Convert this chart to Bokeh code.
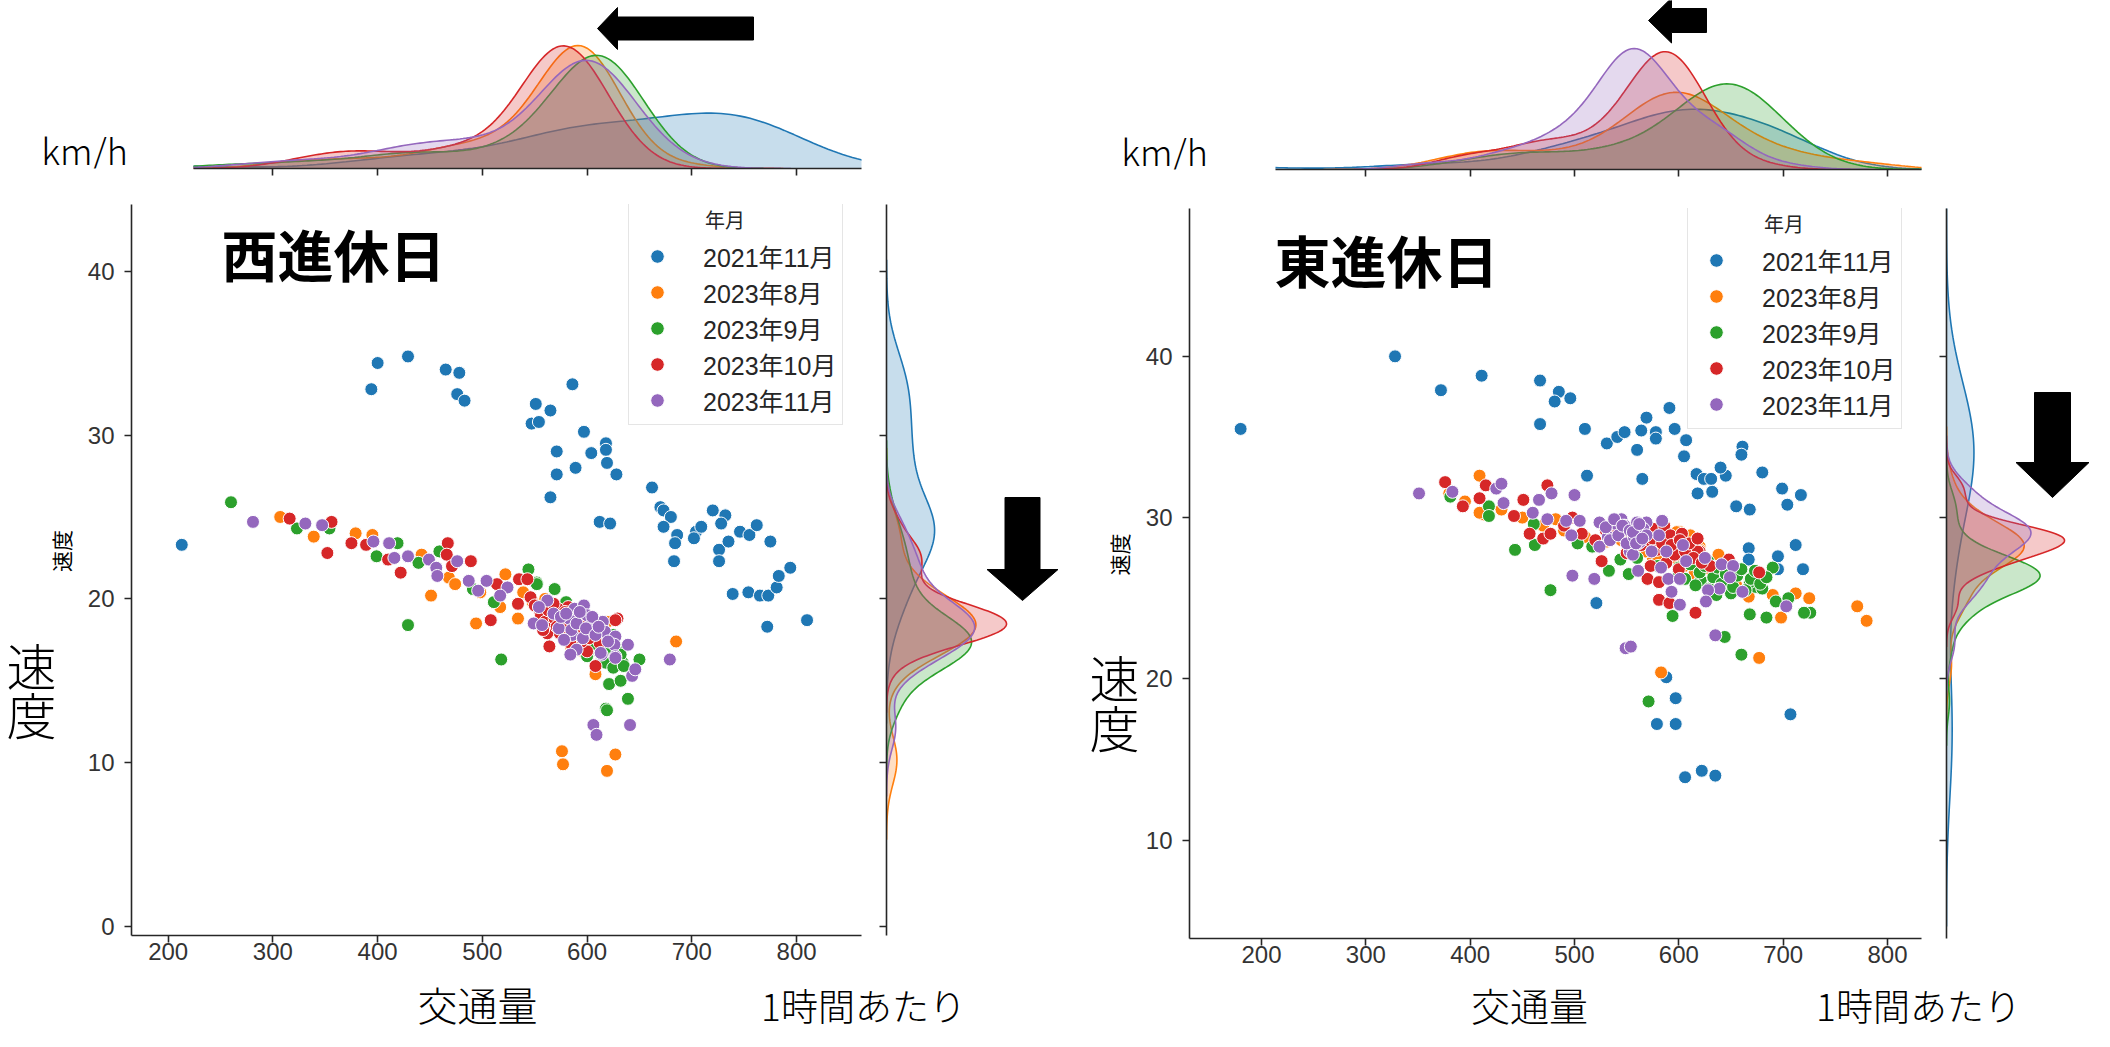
import numpy as np
from bokeh.plotting import figure
from bokeh.layouts import row, column
from bokeh.models import Range1d, FixedTicker, Label, Legend, LegendItem
from bokeh.embed import file_html
from bokeh.resources import INLINE

MONTHS = ["2021年11月", "2023年8月", "2023年9月", "2023年10月", "2023年11月"]
COLORS = ["#1f77b4", "#ff7f0e", "#2ca02c", "#d62728", "#9467bd"]
X_TICKS = [200, 300, 400, 500, 600, 700, 800]
Y_TICKS_W = [0, 10, 20, 30, 40]
Y_TICKS_E = [10, 20, 30, 40]

# ---------------- 西進休日 (west, holidays): 交通量 (per hour), 速度 (km/h)
W_2111_VOL = [213, 394, 400, 429, 465, 478, 476, 483, 586, 551, 565, 547, 554, 597, 571, 618, 618, 604, 619, 571,
              589, 628, 565, 612, 622, 662, 670, 673, 680, 673, 686, 684, 683, 704, 709, 702, 720, 732, 728, 726,
              726, 735, 746, 755, 762, 775, 739, 754, 765, 773, 781, 783, 794, 772, 810]
W_2111_SPD = [23.3, 32.8, 34.4, 34.8, 34.0, 33.8, 32.5, 32.1, 33.1, 31.9, 31.5, 30.7, 30.8, 30.2, 29.0, 29.5, 29.1, 28.9, 28.3, 27.6,
              28.0, 27.6, 26.2, 24.7, 24.6, 26.8, 25.6, 25.4, 25.0, 24.4, 23.9, 23.4, 22.3, 24.1, 24.4, 23.7, 25.4, 25.1, 24.6, 23.0,
              22.3, 23.5, 24.1, 23.9, 24.5, 23.5, 20.3, 20.4, 20.2, 20.2, 20.7, 21.4, 21.9, 18.3, 18.7]
W_2308_VOL = [307, 339, 379, 395, 442, 468, 474, 451, 522, 517, 534, 494, 685, 608, 576, 577, 627, 619, 539, 575,
              590, 600, 612, 560, 548, 622, 585, 498,
              565, 570, 578, 582, 586, 590, 593, 596, 598, 601, 604, 607, 610, 613, 616, 619, 588, 580, 575, 596,
              603, 592, 584, 609, 572]
W_2308_SPD = [25.0, 23.8, 24.0, 23.9, 22.7, 21.3, 20.9, 20.2, 21.5, 19.5, 18.8, 18.5, 17.4, 15.4, 10.7, 9.9, 10.5, 9.5, 20.4, 19.5,
              18.5, 17.5, 18.2, 20.0, 19.8, 16.5, 17.0, 20.4,
              19.0, 18.4, 18.8, 17.6, 18.3, 19.1, 17.9, 18.6, 17.2, 18.1, 18.9, 17.6, 18.4, 17.0, 17.9, 18.6, 17.4, 19.5, 17.9, 16.8,
              17.5, 18.7, 18.9, 16.9, 19.3]
W_2309_VOL = [260, 323, 354, 399, 419, 439, 459, 491, 511, 544, 552, 569, 429, 518, 621, 634, 650, 639, 618, 632,
              619, 552, 580, 595, 610, 605, 565, 625,
              585, 590, 594, 598, 600, 603, 606, 608, 611, 614, 617, 620, 623, 626, 629, 632, 604, 596, 612, 618,
              625, 600, 592, 615, 635]
W_2309_SPD = [25.9, 24.3, 24.3, 22.6, 23.4, 22.2, 22.9, 20.6, 19.8, 21.8, 21.0, 20.6, 18.4, 16.3, 14.8, 16.1, 16.3, 13.9, 13.3, 15.0,
              13.2, 20.9, 19.8, 18.0, 17.5, 18.8, 19.0, 17.8,
              18.5, 17.9, 18.3, 17.4, 18.0, 16.8, 17.7, 18.4, 17.1, 16.5, 17.6, 16.9, 17.4, 16.2, 17.0, 16.6, 17.2, 18.8, 17.9, 16.1,
              15.8, 16.5, 17.0, 18.2, 15.9]
W_2310_VOL = [316, 356, 352, 375, 389, 410, 422, 467, 466, 471, 489, 514, 534, 535, 543, 546, 508, 629, 564, 600,
              608, 627, 612, 575, 590, 620, 555, 582, 598,
              550, 556, 560, 563, 566, 569, 572, 574, 577, 580, 583, 586, 589, 592, 595, 562, 568, 579, 584, 590,
              597, 602, 606, 571, 558]
W_2310_SPD = [24.9, 24.7, 22.8, 23.4, 23.3, 22.4, 21.6, 23.4, 22.7, 22.0, 22.3, 20.9, 19.7, 21.2, 21.2, 20.1, 18.7, 18.8, 17.1, 16.8,
              15.9, 18.7, 17.3, 18.5, 17.8, 17.6, 19.2, 19.5, 18.2,
              19.6, 19.0, 18.6, 19.3, 18.2, 18.8, 19.4, 17.9, 18.6, 18.1, 18.9, 17.6, 18.4, 18.0, 17.4, 17.9, 19.7, 19.2, 17.3, 19.0,
              18.7, 17.6, 18.3, 18.3, 18.1]
W_2311_VOL = [281, 331, 347, 396, 411, 416, 429, 449, 456, 457, 476, 487, 496, 504, 524, 517, 549, 557, 562, 568,
              554, 573, 583, 588, 586, 597, 600, 604, 615, 617, 590, 584, 614, 627, 626, 627, 639, 643, 679, 646,
              606, 609, 641, 613, 627,
              575, 580, 585, 590, 593, 596, 599, 605, 608, 611, 578, 620]
W_2311_SPD = [24.7, 24.6, 24.5, 23.5, 23.4, 22.5, 22.6, 22.4, 21.9, 21.4, 22.3, 21.1, 20.5, 21.1, 20.7, 20.2, 18.5, 18.4, 19.9, 19.1,
              19.5, 18.2, 18.8, 19.4, 17.8, 19.6, 19.0, 18.4, 18.6, 18.0, 16.9, 16.6, 16.6, 17.7, 17.2, 16.5, 17.2, 15.3, 16.3, 15.7,
              12.3, 11.7, 12.3, 16.7, 16.4,
              18.9, 19.1, 18.1, 18.5, 19.2, 17.6, 18.2, 18.9, 17.8, 18.3, 17.5, 17.4]

# ---------------- 東進休日 (east, holidays)
E_2111_VOL = [180, 328, 372, 411, 467, 485, 496, 481, 467, 510, 531, 541, 548, 564, 569, 578, 578, 591, 596, 607,
              560, 605, 512, 565, 617, 624, 631, 645, 618, 632, 640, 661, 660, 680, 655, 668, 699, 717, 704, 667,
              667, 695, 712, 719, 695, 521, 588, 597, 579, 597, 707, 606, 622, 635]
E_2111_SPD = [35.5, 40.0, 37.9, 38.8, 38.5, 37.8, 37.4, 37.2, 35.8, 35.5, 34.6, 35.0, 35.3, 35.4, 36.2, 35.3, 34.9, 36.8, 35.5, 34.8,
              34.2, 33.8, 32.6, 32.4, 32.7, 32.4, 32.4, 32.6, 31.5, 31.6, 33.1, 34.4, 33.9, 32.8, 30.7, 30.5, 31.8, 31.4, 30.8, 28.1,
              27.4, 27.6, 28.3, 26.8, 26.8, 24.7, 20.1, 18.8, 17.2, 17.2, 17.8, 13.9, 14.3, 14.0]
E_2308_VOL = [409, 413, 409, 601, 667, 677, 583, 725, 712, 771, 780, 698, 380, 395, 430, 450, 470, 490, 510, 530,
              545, 560, 575, 590, 605, 615, 630, 640, 655, 690, 620, 585, 482,
              552, 558, 563, 568, 573, 578, 583, 587, 591, 595, 599, 603, 607, 611, 615, 620, 625, 632, 638, 645,
              580, 598]
E_2308_SPD = [32.6, 30.2, 30.3, 29.1, 25.1, 21.3, 20.4, 25.0, 25.3, 24.5, 23.6, 23.8, 31.5, 31.0, 30.5, 30.0, 29.5, 29.2, 28.8, 28.5,
              28.6, 28.0, 27.5, 27.8, 27.0, 26.5, 26.8, 26.0, 25.8, 25.2, 28.2, 28.8, 29.9,
              28.9, 28.4, 29.2, 27.9, 28.6, 29.0, 28.1, 27.6, 28.7, 28.2, 27.4, 28.4, 27.8, 28.9, 27.2, 28.0, 27.5, 27.0, 27.7, 26.8,
              27.3, 29.1]
E_2309_VOL = [381, 418, 418, 461, 462, 443, 503, 517, 533, 544, 552, 594, 674, 668, 644, 660, 571, 477, 726, 720,
              693, 705, 684, 690, 680, 650, 621, 668, 560, 580, 600, 610, 635,
              600, 606, 611, 616, 620, 625, 629, 633, 637, 641, 645, 648, 652, 656, 660, 664, 669, 673, 678, 684,
              636, 628]
E_2309_SPD = [31.3, 30.7, 30.1, 29.6, 28.3, 28.0, 28.4, 28.2, 26.7, 27.4, 26.5, 23.9, 25.7, 24.0, 22.6, 21.5, 18.6, 25.5, 24.1, 24.1,
              24.8, 25.0, 23.8, 26.9, 25.6, 25.3, 26.1, 26.0, 27.5, 27.0, 26.5, 27.2, 26.5,
              26.9, 26.2, 27.1, 25.8, 26.6, 27.0, 25.6, 26.3, 26.9, 25.9, 26.5, 27.2, 25.7, 26.4, 26.8, 25.5, 26.2, 26.7, 25.9, 26.3,
              25.2, 27.3]
E_2310_VOL = [376, 393, 415, 409, 451, 442, 474, 457, 470, 477, 498, 507, 526, 620, 573, 570, 581, 591, 581, 618,
              648, 677, 616, 540, 555, 565, 595, 605, 630, 550, 588, 530, 490, 520, 600,
              548, 555, 560, 564, 568, 572, 576, 579, 582, 586, 589, 592, 596, 599, 603, 606, 610, 614, 618, 622,
              575, 584, 593, 601]
E_2310_SPD = [32.2, 30.7, 32.0, 31.2, 31.1, 30.1, 32.0, 29.0, 28.7, 29.0, 30.0, 29.0, 27.3, 27.9, 27.0, 26.2, 24.9, 24.7, 26.0, 27.9,
              27.4, 26.6, 24.1, 29.0, 28.5, 28.8, 28.0, 27.6, 27.0, 27.8, 27.2, 29.2, 29.5, 28.6, 26.8,
              29.4, 28.9, 29.6, 28.3, 29.1, 28.6, 29.3, 28.0, 28.8, 29.5, 28.2, 28.9, 27.7, 28.5, 29.0, 27.9, 28.4, 27.5, 28.7, 27.2,
              28.7, 28.4, 28.3, 28.6]
E_2311_VOL = [351, 383, 425, 430, 432, 460, 466, 478, 500, 474, 492, 505, 497, 524, 540, 532, 569, 584, 581, 561,
              604, 588, 625, 574, 553, 524, 556, 561, 583, 590, 593, 601, 601, 607, 641, 652, 649, 639, 628, 626,
              661, 635, 549, 554, 498, 519, 703, 545, 548,
              530, 534, 538, 542, 546, 550, 553, 557, 560, 563, 566, 569,
              556, 559, 562, 565]
E_2311_SPD = [31.5, 31.6, 31.8, 32.1, 30.9, 30.3, 31.1, 31.5, 31.4, 29.9, 29.8, 29.8, 28.9, 29.7, 29.6, 28.8, 29.7, 29.8, 28.9, 28.4,
              28.3, 27.9, 27.5, 27.9, 27.9, 28.2, 27.7, 26.7, 26.9, 26.2, 25.4, 26.2, 24.6, 27.3, 27.1, 27.0, 26.3, 25.6, 25.5, 24.8,
              25.4, 22.7, 21.9, 22.0, 26.4, 26.2, 24.5, 29.9, 29.5,
              29.4, 28.6, 29.9, 28.9, 29.5, 28.4, 29.2, 28.8, 29.7, 28.5, 29.3, 28.9,
              29.1, 28.4, 29.6, 28.7]

WEST_VOL = [W_2111_VOL, W_2308_VOL, W_2309_VOL, W_2310_VOL, W_2311_VOL]
WEST_SPD = [W_2111_SPD, W_2308_SPD, W_2309_SPD, W_2310_SPD, W_2311_SPD]
EAST_VOL = [E_2111_VOL, E_2308_VOL, E_2309_VOL, E_2310_VOL, E_2311_VOL]
EAST_SPD = [E_2111_SPD, E_2308_SPD, E_2309_SPD, E_2310_SPD, E_2311_SPD]

AXIS_COLOR = "#262626"
TICK_FONT = "Liberation Sans"
JP_FONT = "Noto Sans CJK JP"
JP_LIGHT = "Noto Sans CJK JP Light, Noto Sans CJK JP"
LEGEND_FONT = "Liberation Sans, Noto Sans CJK JP"


def kde(vals, cut=3, n_grid=200):
    v = np.asarray(vals, dtype=float)
    n = v.size
    bw = v.std(ddof=1) * n ** (-0.2)
    g = np.linspace(v.min() - cut * bw, v.max() + cut * bw, n_grid)
    d = np.exp(-0.5 * ((g[:, None] - v[None, :]) / bw) ** 2).sum(axis=1) / (n * bw * np.sqrt(2 * np.pi))
    return g, d


def group_kdes(groups):
    total = sum(len(g) for g in groups)
    out = []
    for g in groups:
        grid, d = kde(g)
        out.append((grid, d * len(g) / total))
    return out


def make_fig(canvas, frame, xr, yr, x_axis=None, y_axis=None):
    cx0, cy0, w, h = canvas
    fl, ft, fr, fb = frame
    p = figure(width=w, height=h, x_range=Range1d(*xr), y_range=Range1d(*yr),
               x_axis_location=x_axis, y_axis_location=y_axis,
               toolbar_location=None, output_backend="svg",
               min_border_left=fl - cx0, min_border_right=cx0 + w - fr,
               min_border_top=ft - cy0, min_border_bottom=cy0 + h - fb)
    p.outline_line_color = None
    p.background_fill_color = "white"
    p.border_fill_color = "white"
    p.xgrid.visible = False
    p.ygrid.visible = False

    def to_data(X, Y):
        return (xr[0] + (X - fl) / (fr - fl) * (xr[1] - xr[0]),
                yr[0] + (fb - Y) / (fb - ft) * (yr[1] - yr[0]))
    return p, to_data


def text_fig(canvas):
    cx0, cy0, w, h = canvas
    return make_fig(canvas, (cx0, cy0, cx0 + w, cy0 + h), (0, w), (0, h))


def style_axis(ax, ticks, labels=True, standoff=8):
    ax.ticker = FixedTicker(ticks=ticks)
    ax.axis_line_color = AXIS_COLOR
    ax.axis_line_width = 1.6
    ax.major_tick_line_color = AXIS_COLOR
    ax.major_tick_line_width = 1.6
    ax.major_tick_out = 7
    ax.major_tick_in = 0
    ax.minor_tick_line_color = None
    if labels:
        ax.major_label_text_font = TICK_FONT
        ax.major_label_text_font_size = "24px"
        ax.major_label_text_color = "#333333"
        ax.major_label_standoff = standoff
    else:
        ax.major_label_overrides = {t: "" for t in ticks}
        ax.major_label_standoff = 0


def add_text(p, to_data, X, Y, text, size, font, style="normal", align="center", angle=0.0):
    x, y = to_data(X, Y)
    p.add_layout(Label(x=x, y=y, text=text, text_font=font, text_font_size=f"{size}px", angle=angle,
                       text_font_style=style, text_color="black", text_align=align, text_baseline="middle"))


def add_arrow(p, to_data, pts):
    xs, ys = zip(*[to_data(X, Y) for X, Y in pts])
    p.patch(list(xs), list(ys), fill_color="black", line_color="black")


def arrow_left(tx, ty, base_x, head_half, end_x, shaft_half):
    return [(tx, ty), (base_x, ty - head_half), (base_x, ty - shaft_half), (end_x, ty - shaft_half),
            (end_x, ty + shaft_half), (base_x, ty + shaft_half), (base_x, ty + head_half)]


def arrow_down(tx, ty, base_y, head_half, top_y, shaft_half):
    return [(tx, ty), (tx - head_half, base_y), (tx - shaft_half, base_y), (tx - shaft_half, top_y),
            (tx + shaft_half, top_y), (tx + shaft_half, base_y), (tx + head_half, base_y)]


def build_panel(cfg, vols, spds):
    # ---- main scatter
    M, m_data = make_fig(cfg["M_canvas"], cfg["M_frame"], cfg["xr"], cfg["yr"], x_axis="below", y_axis="left")
    style_axis(M.xaxis[0], X_TICKS, standoff=0)
    style_axis(M.yaxis[0], cfg["yticks"], standoff=10)
    rends = []
    for v, s, c in zip(vols, spds, COLORS):
        rends.append(M.scatter(v, s, size=13, fill_color=c, line_color="white", line_width=1))
    leg = Legend(items=[LegendItem(label=m, renderers=[r]) for m, r in zip(MONTHS, rends)],
                 location=cfg["legend_loc"], title="\u3000\u3000\u3000\u2002年月",
                 title_text_font=JP_FONT, title_text_font_size="20px", title_text_font_style="normal",
                 title_text_color="#262626", title_standoff=4,
                 label_text_font=LEGEND_FONT, label_text_font_size="25px", label_text_color="#262626",
                 glyph_width=44, glyph_height=34, label_height=34, spacing=0, padding=6,
                 label_standoff=24, margin=0, border_line_color="#cccccc", border_line_width=1,
                 background_fill_color="white", background_fill_alpha=0.85)
    M.add_layout(leg)
    add_text(M, m_data, cfg["title_xy"][0], cfg["title_xy"][1], cfg["title"], 56, JP_FONT, style="bold")

    # ---- left strip: big 速度 caption and the small axis title
    L, l_data = text_fig(cfg["L_canvas"])
    sx, sy = cfg["soku_xy"]
    add_text(L, l_data, sx, sy, "速", 50, JP_LIGHT)
    add_text(L, l_data, sx, sy + cfg["do_dy"], "度", 50, JP_LIGHT)
    ax_x, ax_y = cfg["ylab_xy"]
    add_text(L, l_data, ax_x, ax_y, "速度", 21, JP_FONT, angle=np.pi / 2)

    # ---- top marginal (交通量 density)
    tk = group_kdes(vols)
    tmax = max(d.max() for _, d in tk)
    t_frame = cfg["T_frame"]
    t_h = t_frame[3] - t_frame[1]
    T, t_data = make_fig(cfg["T_canvas"], t_frame, cfg["T_xr"], (0, tmax * t_h / cfg["T_peak_px"]), x_axis="below")
    style_axis(T.xaxis[0], X_TICKS, labels=False)
    for (g, d), c in zip(tk, COLORS):
        T.varea(x=g, y1=0, y2=d, fill_color=c, fill_alpha=0.25)
        T.line(g, d, line_color=c, line_width=1.6)
    add_arrow(T, t_data, cfg["T_arrow"])

    # ---- top-left corner: unit caption
    K, k_data = text_fig(cfg["K_canvas"])
    add_text(K, k_data, cfg["kmh_xy"][0], cfg["kmh_xy"][1], "km/h", 36, JP_LIGHT)

    # ---- right marginal (速度 density)
    rk = group_kdes(spds)
    rmax = max(d.max() for _, d in rk)
    r_frame = cfg["R_frame"]
    r_w = r_frame[2] - r_frame[0]
    R, r_data = make_fig(cfg["R_canvas"], r_frame, (0, rmax * r_w / cfg["R_peak_px"]), cfg["R_yr"], y_axis="left")
    style_axis(R.yaxis[0], cfg["r_yticks"], labels=False)
    for (g, d), c in zip(rk, COLORS):
        R.harea(y=g, x1=0, x2=d, fill_color=c, fill_alpha=0.25)
        R.line(d, g, line_color=c, line_width=1.6)
    add_arrow(R, r_data, cfg["R_arrow"])

    # ---- bottom strip with axis captions
    B, b_data = text_fig(cfg["B_canvas"])
    add_text(B, b_data, cfg["kotsu_xy"][0], cfg["kotsu_xy"][1], "交通量", cfg["kotsu_size"], JP_LIGHT)
    add_text(B, b_data, cfg["hour_xy"][0], cfg["hour_xy"][1], "1時間あたり", 37, JP_LIGHT)

    return column(row(K, T), row(L, M, R), B)


def y_extend(yr, frame_main, top_new):
    ppu = (frame_main[3] - frame_main[1]) / (yr[1] - yr[0])
    return (yr[0], yr[0] + (frame_main[3] - top_new) / ppu)


def x_at(xr, frame_main, X):
    return xr[0] + (X - frame_main[0]) / (frame_main[2] - frame_main[0]) * (xr[1] - xr[0])


# --- west panel geometry (page pixels); scale: y 0..40 between page y 934 and 279
W_XR = (165.0, 862.0)
W_MF = (139, 212, 869, 943)
W_YR = y_extend((-0.55, 43.1), (139, 228, 869, 943), W_MF[1])
west_cfg = dict(
    K_canvas=(8, 8, 193, 204), kmh_xy=(92, 188),
    T_canvas=(201, 8, 869, 204), T_frame=(201, 10, 869, 176), T_xr=(x_at(W_XR, W_MF, 201), W_XR[1]),
    T_peak_px=123, T_arrow=arrow_left(605, 36, 625, 21, 761, 11.5),
    L_canvas=(8, 212, 80, 766), soku_xy=(39, 694), do_dy=51, ylab_xy=(68, 575),
    M_canvas=(88, 212, 792, 766), M_frame=W_MF, xr=W_XR, yr=W_YR, yticks=Y_TICKS_W,
    legend_loc=(636 - 139, 943 - 433), title="西進休日", title_xy=(341, 260),
    R_canvas=(880, 212, 190, 766), R_frame=(894, 212, 1068, 943), R_yr=y_extend(W_YR, W_MF, 212),
    r_yticks=Y_TICKS_W, R_peak_px=120, R_arrow=arrow_down(1030, 608, 577, 35.5, 505, 17.5),
    B_canvas=(8, 978, 1062, 61), kotsu_xy=(485, 1011), kotsu_size=40, hour_xy=(871, 1012),
)

E_XR = (131.0, 832.6)
E_MF = (1197, 216, 1929, 946)
E_YR = y_extend((3.9, 48.3), (1197, 230, 1929, 946), E_MF[1])
east_cfg = dict(
    K_canvas=(1070, 8, 213, 208), kmh_xy=(1172, 192),
    T_canvas=(1283, 8, 819, 208), T_frame=(1283, 8, 1929, 177), T_xr=(x_at(E_XR, E_MF, 1283), E_XR[1]),
    T_peak_px=121, T_arrow=arrow_left(1656, 28, 1679, 22.5, 1714, 12),
    L_canvas=(1070, 216, 80, 764), soku_xy=(1122, 705), do_dy=53, ylab_xy=(1126, 578),
    M_canvas=(1150, 216, 790, 764), M_frame=E_MF, xr=E_XR, yr=E_YR, yticks=Y_TICKS_E,
    legend_loc=(1695 - 1197, 946 - 437), title="東進休日", title_xy=(1394, 266),
    R_canvas=(1940, 216, 162, 764), R_frame=(1954, 216, 2100, 946), R_yr=y_extend(E_YR, E_MF, 216),
    r_yticks=Y_TICKS_E, R_peak_px=118, R_arrow=arrow_down(2060, 505, 470, 36.5, 400, 18),
    B_canvas=(1070, 980, 1032, 59), kotsu_xy=(1537, 1011.5), kotsu_size=39, hour_xy=(1926, 1012),
)

p = row(build_panel(west_cfg, WEST_VOL, WEST_SPD), build_panel(east_cfg, EAST_VOL, EAST_SPD))

open("out.html", "w").write(file_html(p, INLINE))
